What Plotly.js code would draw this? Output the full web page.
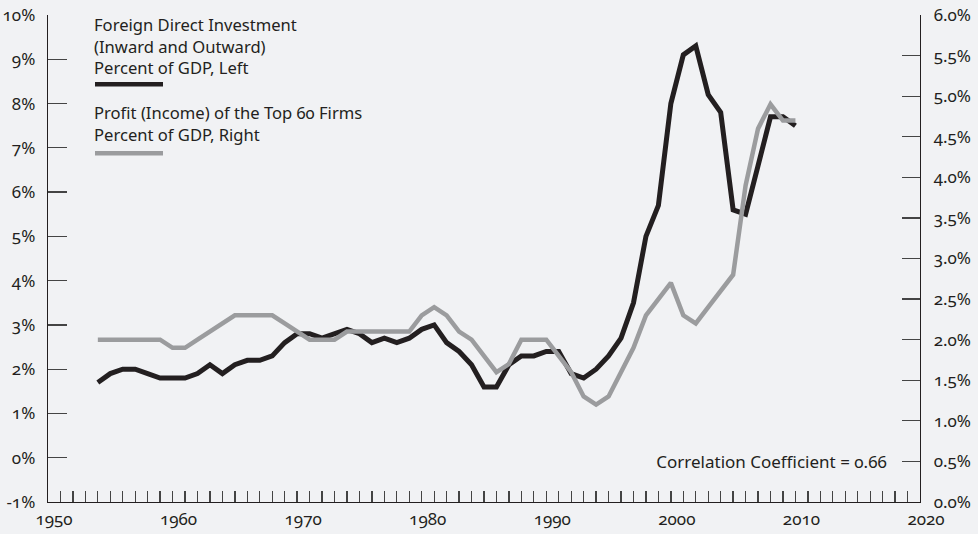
<!DOCTYPE html>
<html>
<head>
<meta charset="utf-8">
<script src="https://cdn.plot.ly/plotly-3.0.1.min.js"></script>
<style>
  html, body { margin: 0; padding: 0; background: #f1f2f4; }
  #chart { width: 978px; height: 534px; }
  .main-svg text { font-feature-settings: "onum" 1; font-variant-numeric: oldstyle-nums; }
</style>
</head>
<body>
<div id="chart"></div>
<script>
// ---- Data ----
const years = [1954,1955,1956,1957,1958,1959,1960,1961,1962,1963,1964,1965,1966,1967,1968,1969,
  1970,1971,1972,1973,1974,1975,1976,1977,1978,1979,1980,1981,1982,1983,1984,1985,1986,1987,1988,1989,
  1990,1991,1992,1993,1994,1995,1996,1997,1998,1999,2000,2001,2002,2003,2004,2005,2006,2007,2008,2009,2010];

// Foreign Direct Investment (inward and outward), % of GDP — left axis
const fdiPct = [1.7,1.9,2.0,2.0,1.9,1.8,1.8,1.8,1.9,2.1,1.9,2.1,2.2,2.2,2.3,2.6,
  2.8,2.8,2.7,2.8,2.9,2.8,2.6,2.7,2.6,2.7,2.9,3.0,2.6,2.4,2.1,1.6,1.6,2.1,2.3,2.3,
  2.4,2.4,1.9,1.8,2.0,2.3,2.7,3.5,5.0,5.7,8.0,9.1,9.3,8.2,7.8,5.6,5.5,6.6,7.7,7.7,7.5];

// Profit (income) of the top 60 firms, % of GDP — right axis
const profitPct = [2.0,2.0,2.0,2.0,2.0,2.0,1.9,1.9,2.0,2.1,2.2,2.3,2.3,2.3,2.3,2.2,
  2.1,2.0,2.0,2.0,2.1,2.1,2.1,2.1,2.1,2.1,2.3,2.4,2.3,2.1,2.0,1.8,1.6,1.7,2.0,2.0,
  2.0,1.8,1.6,1.3,1.2,1.3,1.6,1.9,2.3,2.5,2.7,2.3,2.2,2.4,2.6,2.8,3.9,4.6,4.9,4.7,4.7];

const xTickVals = [1950,1960,1970,1980,1990,2000,2010,2020];
const xTickText = ["1950","1960","1970","1980","1990","2000","2010","2020"];
const leftTickVals = [-1,0,1,2,3,4,5,6,7,8,9,10];
const leftTickText = ["-1%","0%","1%","2%","3%","4%","5%","6%","7%","8%","9%","10%"];
const rightTickVals = [0,0.5,1,1.5,2,2.5,3,3.5,4,4.5,5,5.5,6];
const rightTickText = ["0.0%","0.5%","1.0%","1.5%","2.0%","2.5%","3.0%","3.5%","4.0%","4.5%","5.0%","5.5%","6.0%"];

const fdiLabel = "Foreign Direct Investment<br>(Inward and Outward)<br>Percent of GDP, Left";
const profitLabel = "Profit (Income) of the Top 60 Firms<br>Percent of GDP, Right";
const corrLabel = "Correlation Coefficient = 0.66";

// ---- Styling ----
const BG = "#f1f2f4";
const INK = "#231f20";
const BLACK = "#231f20";
const GREY = "#9b9c9e";
const FONT = "Noto Sans, Open Sans, sans-serif";

// plot-area geometry helpers (paper coordinates)
const W = 978, H = 534, ML = 48, MR = 58, MT = 15, MB = 32;
const PW = W - ML - MR, PH = H - MT - MB;
const px = x => (x - ML) / PW;
const py = y => (H - MB - y) / PH;

const traces = [
  {
    x: years, y: fdiPct, type: "scatter", mode: "lines", name: "FDI",
    line: { color: BLACK, width: 5 }, yaxis: "y", hoverinfo: "skip"
  },
  {
    x: years, y: profitPct, type: "scatter", mode: "lines", name: "Profit",
    line: { color: GREY, width: 4.5 }, yaxis: "y2", hoverinfo: "skip"
  }
];

const axisCommon = {
  showgrid: false, zeroline: false, showline: true, linecolor: INK, linewidth: 1.3,
  ticks: "inside", tickcolor: "#444", tickwidth: 1.3,
  tickfont: { family: FONT, size: 17, color: INK }
};

const layout = {
  width: W, height: H,
  margin: { l: ML, r: MR, t: MT, b: MB, pad: 0 },
  paper_bgcolor: BG, plot_bgcolor: BG,
  showlegend: false,
  font: { family: FONT, size: 16, color: INK },
  xaxis: Object.assign({}, axisCommon, {
    range: [1950, 2020], tickmode: "array", tickvals: xTickVals, ticktext: xTickText,
    ticklen: 11, ticklabelshift: 6, ticklabelstandoff: 1,
    minor: { dtick: 1, tick0: 1950, ticks: "inside", ticklen: 11, tickcolor: "#444", tickwidth: 1.3 }
  }),
  yaxis: Object.assign({}, axisCommon, {
    range: [-1, 10], tickmode: "array", tickvals: leftTickVals, ticktext: leftTickText,
    ticklen: 19, ticklabelstandoff: 8
  }),
  yaxis2: Object.assign({}, axisCommon, {
    range: [0, 6], tickmode: "array", tickvals: rightTickVals, ticktext: rightTickText,
    overlaying: "y", side: "right", ticklen: 18, ticklabelstandoff: 9
  }),
  annotations: [
    { xref: "paper", yref: "paper", x: px(92), y: py(45.5), xanchor: "left", yanchor: "middle",
      align: "left", showarrow: false, text: fdiLabel, font: { family: FONT, size: 16.6, color: INK } },
    { xref: "paper", yref: "paper", x: px(92), y: py(123.7), xanchor: "left", yanchor: "middle",
      align: "left", showarrow: false, text: profitLabel, font: { family: FONT, size: 16.6, color: INK } },
    { xref: "paper", yref: "paper", x: px(889), y: py(461), xanchor: "right", yanchor: "middle",
      align: "right", showarrow: false, text: corrLabel, font: { family: FONT, size: 17, color: INK } }
  ],
  shapes: [
    { type: "line", xref: "paper", yref: "paper", x0: px(95), x1: px(163), y0: py(84.3), y1: py(84.3),
      line: { color: BLACK, width: 4.5 } },
    { type: "line", xref: "paper", yref: "paper", x0: px(95), x1: px(163), y0: py(153.3), y1: py(153.3),
      line: { color: GREY, width: 4.5 } }
  ]
};

Plotly.newPlot("chart", traces, layout, { staticPlot: true, displayModeBar: false });
</script>
</body>
</html>
